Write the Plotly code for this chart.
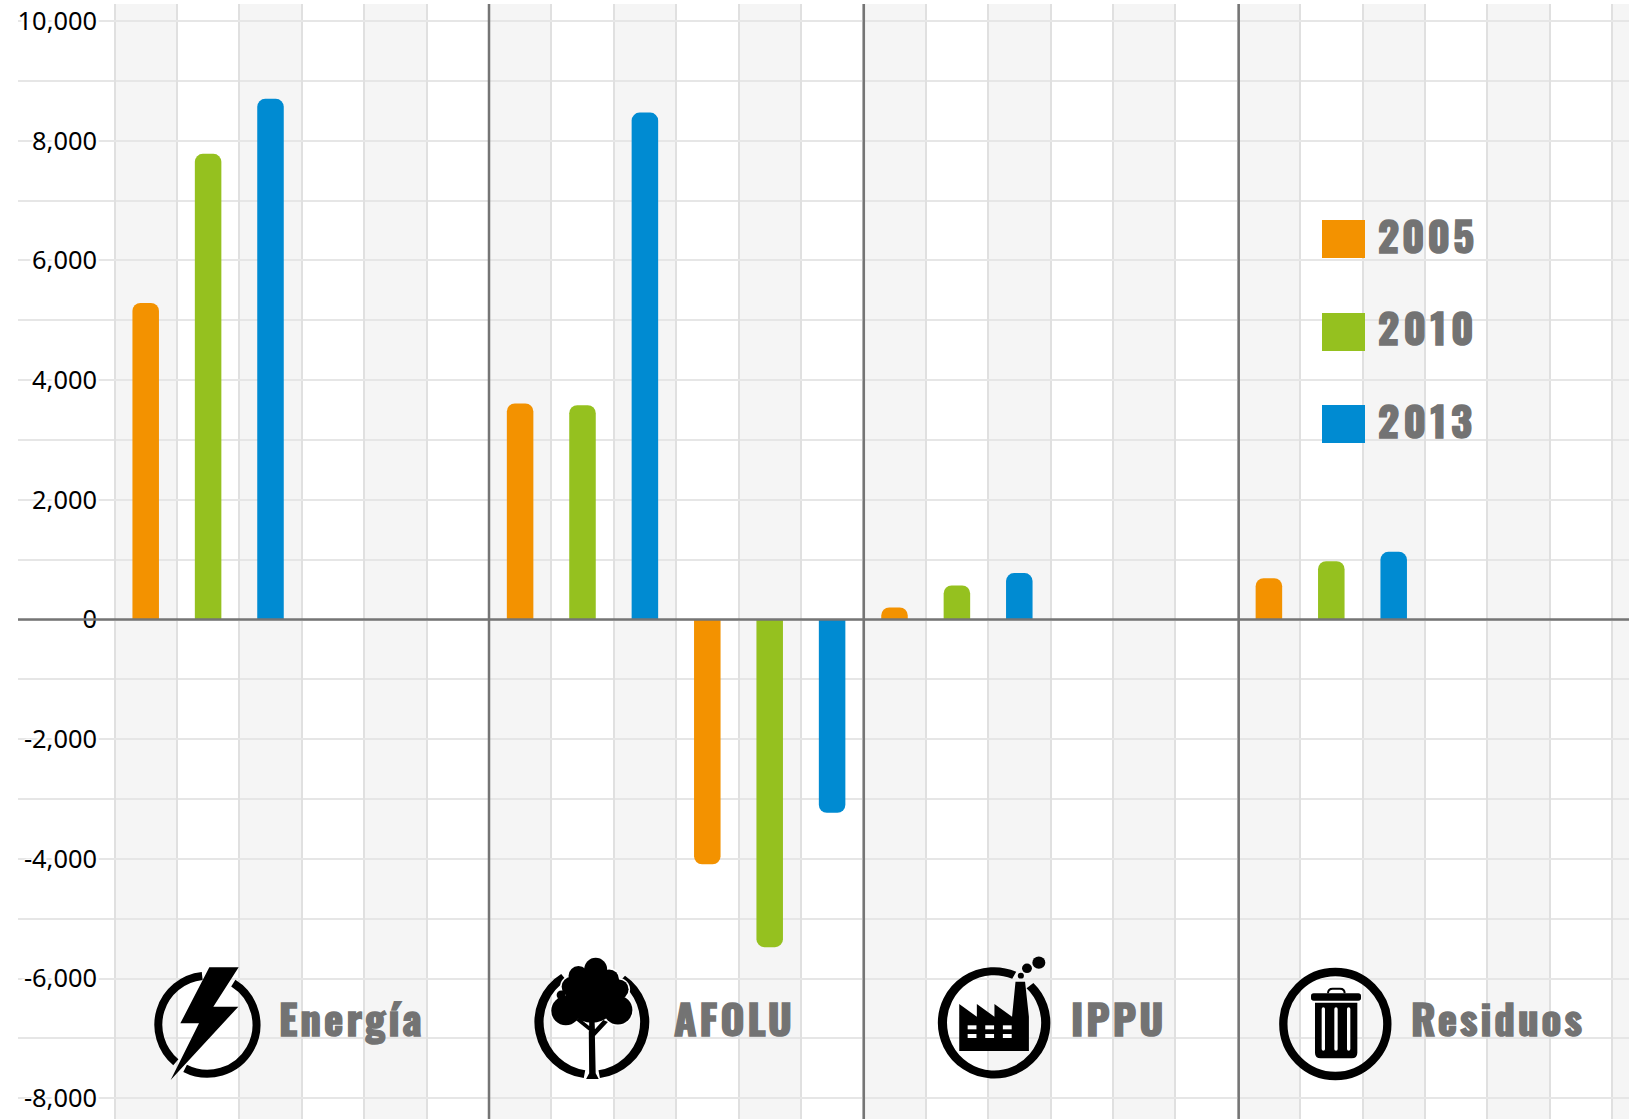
import base64
import math
import plotly.graph_objects as go

W, H = 1634, 1119

categories = ["Energía", "AFOLU", "IPPU", "Residuos"]
years = ["2005", "2010", "2013"]
colors = ["#f39200", "#95c11f", "#008bd2"]
emissions_2005 = [5290, 3610, 200, 690]
emissions_2010 = [7780, 3580, 570, 975]
emissions_2013 = [8700, 8470, 775, 1130]
removals_2005 = [-4090]
removals_2010 = [-5475]
removals_2013 = [-3230]
tick_values = [10000, 8000, 6000, 4000, 2000, 0, -2000, -4000, -6000, -8000]
tick_labels = ["10,000", "8,000", "6,000", "4,000", "2,000", "0", "-2,000", "-4,000", "-6,000", "-8,000"]

X_LEFT, X_RIGHT = 18, 1629
PLOT_TOP = 4
BAND = 62.4
X0 = 114.5
Y_ZERO = 619.5
PX_PER_UNIT = 59.85 / 1000


def x_data(px):
    return (px - X0) / BAND


x_range = [x_data(X_LEFT), x_data(X_RIGHT)]
y_range = [-(H - Y_ZERO) / PX_PER_UNIT, (Y_ZERO - PLOT_TOP) / PX_PER_UNIT]

fig = go.Figure()
series = [emissions_2005, emissions_2010, emissions_2013]
removals = [removals_2005, removals_2010, removals_2013]
for k, year in enumerate(years):
    xs = [i * 6 + k + 0.5 for i in range(len(categories))] + [6 + 3 + k + 0.5]
    ys = series[k] + removals[k]
    fig.add_trace(go.Bar(x=xs, y=ys, name=year, width=0.425, marker=dict(color=colors[k], line_width=0),
                         showlegend=False))

shapes = []
for b in range(0, 26, 2):
    shapes.append(dict(type="rect", xref="x", yref="paper", x0=b, x1=min(b + 1, x_range[1]), y0=0,
                       y1=1 - PLOT_TOP / H, fillcolor="#f5f5f5", line_width=0, layer="below"))
for px in (489, 863.8, 1238.7):
    v = x_data(px)
    shapes.append(dict(type="line", xref="x", yref="paper", x0=v, x1=v, y0=0, y1=1 - PLOT_TOP / H,
                       line=dict(color="#757575", width=2.5), layer="above"))
shapes.append(dict(type="line", xref="x", yref="y", x0=x_range[0], x1=x_range[1], y0=0, y1=0,
                   line=dict(color="#757575", width=2.5), layer="above"))

for top, c in zip((220, 313, 405), colors):
    shapes.append(dict(type="rect", xref="paper", yref="paper", x0=1322 / W, x1=1365 / W,
                       y0=1 - (top + 38) / H, y1=1 - top / H, fillcolor=c, line_width=0, layer="above"))


def label(text, x, y, size):
    return dict(text=text, xref="paper", yref="paper", x=x / W, y=1 - y / H, xanchor="left", yanchor="middle",
                showarrow=False, align="left",
                font=dict(family="Oswald, Liberation Sans Narrow, Arial Narrow", size=size, color="#737373",
                          weight="bold"))


annotations = []
for txt, x in zip(categories, (277, 671.5, 1069, 1409)):
    annotations.append(label(txt, x, 1017, 41))
for txt, y in zip(years, (234, 327, 419)):
    annotations.append(label(txt, 1376, y, 41))


def arc(cx, cy, rx, ry, a0, a1):
    t0, t1 = math.radians(a0), math.radians(a1)
    large = 1 if (a1 - a0) % 360 > 180 else 0
    return (f"M{cx + rx * math.cos(t0):.1f} {cy + ry * math.sin(t0):.1f} "
            f"A{rx} {ry} 0 {large} 1 {cx + rx * math.cos(t1):.1f} {cy + ry * math.sin(t1):.1f} ")


def ell(cx, cy, r, ratio=1.0):
    return f'<ellipse cx="{cx}" cy="{cy}" rx="{r}" ry="{r * ratio}"/>'


energy = ('<g transform="translate(0 900) scale(0.33333)">'
          f'<path d="{arc(622, 374, 147, 147, -58, 117)}{arc(622, 374, 147, 147, 130, 264)}" '
          'fill="none" stroke="#000" stroke-width="24"/>'
          '<polygon points="628,202 716,202 640,320 715,320 512,540 597,370 541,370" fill="#000"/></g>')

tree = '<g transform="translate(500 900) scale(0.3827 0.33333)">'
tree += (f'<path d="{arc(240, 366, 138, 158, 98, 238)}{arc(240, 366, 138, 158, -55, 82)}" '
         'fill="none" stroke="#000" stroke-width="24"/>')
R = 1.148
tree += '<g fill="#000" stroke="#fff" stroke-width="8">'
for cx, cy, r in [(250, 208, 30), (205, 228, 26), (285, 238, 26), (187, 260, 26), (310, 268, 26),
                  (172, 332, 38), (308, 330, 38), (160, 285, 12)]:
    tree += ell(cx, cy, r, R)
tree += '</g><g fill="#000">'
for cx, cy, r in [(250, 208, 30), (205, 228, 26), (285, 238, 26), (187, 260, 26), (310, 268, 26),
                  (172, 332, 38), (308, 330, 38), (240, 290, 68), (160, 285, 12)]:
    tree += ell(cx, cy, r, R)
tree += '</g>'
tree += ('<path d="M198 360 L233 392 L232 395 L233 520 L225 537 L258 537 L250 520 L248 408 L282 366 '
         'L270 360 L248 388 L247 358 L233 358 L233 378 L207 354 Z" fill="#000"/>')
tree += '</g>'

factory = '<g transform="translate(500 900) scale(0.3827 0.33333)">'
factory += (f'<path d="{arc(1291, 368.5, 135, 155, -46, -67)}" fill="none" stroke="#000" stroke-width="24"/>')
factory += ('<polygon points="1200,312 1246,350 1246,312 1292,350 1292,312 1338,350 1347,245 1372,245 '
            '1382,350 1382,453 1200,453" fill="#000"/>')
for y in (376, 402):
    for x in (1222, 1268, 1314):
        factory += f'<rect x="{x}" y="{y}" width="23" height="12" fill="#fff"/>'
for cx, cy, r in [(1361, 227, 8), (1377, 205, 13), (1408, 188, 17)]:
    factory += f'<g fill="#000">{ell(cx, cy, r, R * 0.95)}</g>'
factory += '</g>'

trash = '''
<g transform="translate(1200 900) scale(0.33333)">
<circle cx="406" cy="372" r="156" fill="none" stroke="#000" stroke-width="25"/>
<rect x="333" y="280" width="150" height="22" rx="8" fill="#000"/>
<path d="M384 280 Q384 266 398 266 L420 266 Q434 266 434 280" fill="none" stroke="#000" stroke-width="6"/>
<path d="M345 308 L472 308 L472 458 Q472 475 455 475 L362 475 Q345 475 345 458 Z" fill="#000"/>
<rect x="365" y="322" width="10" height="130" rx="5" fill="#fff"/>
<rect x="403" y="322" width="10" height="130" rx="5" fill="#fff"/>
<rect x="441" y="322" width="10" height="130" rx="5" fill="#fff"/>
</g>'''

svg = (f'<svg xmlns="http://www.w3.org/2000/svg" width="{W}" height="219" viewBox="0 900 {W} 219">'
       + energy + tree + factory + trash + '</svg>')
uri = "data:image/svg+xml;base64," + base64.b64encode(svg.encode()).decode()

halo = ",".join(["0 0 2px #fff"] * 8 + ["3px 0 1px #fff", "-3px 0 1px #fff"])

fig.update_layout(
    width=W, height=H, autosize=False,
    margin=dict(l=0, r=0, t=0, b=0, autoexpand=False),
    paper_bgcolor="#fff", plot_bgcolor="#fff",
    barmode="overlay", barcornerradius=8,
    xaxis=dict(domain=[X_LEFT / W, X_RIGHT / W], range=x_range, tickmode="array", automargin=False,
               tickvals=list(range(0, 25)), ticktext=[""] * 25, showgrid=True,
               gridcolor="#e0e0e0", gridwidth=1.5, zeroline=False, showline=False, ticks="",
               fixedrange=True),
    yaxis=dict(domain=[0, 1 - PLOT_TOP / H], range=y_range, anchor="free", position=97 / W, automargin=False,
               tickmode="array", tickvals=tick_values, ticktext=tick_labels,
               showgrid=True, gridcolor="#e6e6e6", gridwidth=1.5, zeroline=False, showline=False,
               ticks="", tickfont=dict(family="Noto Sans", size=25.4, color="#000", shadow=halo),
               minor=dict(tick0=0, dtick=1000, showgrid=True, gridcolor="#e6e6e6", gridwidth=1.5),
               fixedrange=True),
    shapes=shapes, annotations=annotations,
    images=[dict(source=uri, xref="paper", yref="paper", x=0, y=219 / H, sizex=1, sizey=219 / H,
                 xanchor="left", yanchor="top", sizing="stretch", layer="above")],
    showlegend=False,
)

post = """
document.body.style.margin='0';
document.documentElement.style.overflow='hidden';
document.querySelectorAll('.annotation-text').forEach(function(t){
  var s=t.textContent;
  t.style.letterSpacing=(s==='2010'||s==='2013')?'4.5px':'3px';
  t.style.stroke='#737373';
  t.style.strokeWidth='1.4px';
});
"""
fig.write_html("out.html", config={"displayModeBar": False}, post_script=post)
